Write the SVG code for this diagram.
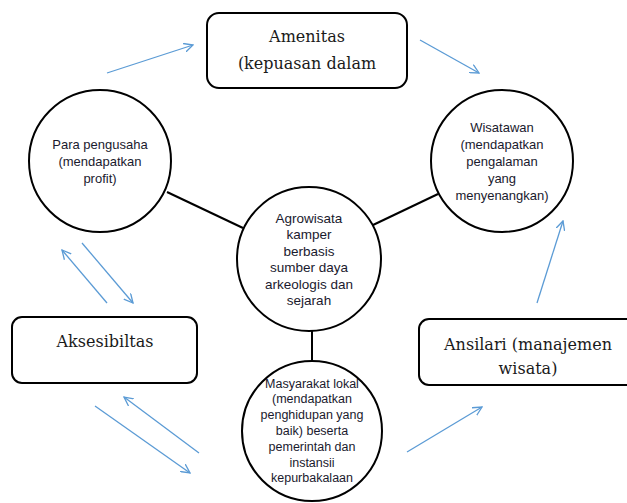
<svg xmlns="http://www.w3.org/2000/svg" width="627" height="503" viewBox="0 0 627 503">
<style>
.box{fill:#fff;stroke:#000;stroke-width:2}
.circ{fill:#fff;stroke:#000;stroke-width:2}
.ser{font-family:"DejaVu Serif","Liberation Serif",serif;font-size:16px;fill:#1a1a1a;text-anchor:middle}
.san{font-family:"Liberation Sans",Arial,sans-serif;font-size:13px;fill:#1a1a2e;text-anchor:middle}
.link{stroke:#000;stroke-width:2;fill:none}
.arr{stroke:#5b9bd5;stroke-width:1.3;fill:none;marker-end:url(#ah)}
</style>
<defs>
<marker id="ah" viewBox="0 0 10 10" refX="9" refY="5" markerWidth="10" markerHeight="10" markerUnits="userSpaceOnUse" orient="auto">
<path d="M0,0.5 L9,5 L0,9.5" fill="none" stroke="#5b9bd5" stroke-width="1.3"/>
</marker>
</defs>
<rect width="627" height="503" fill="#fff"/>
<g id="connectors">
<line class="link" x1="167" y1="192" x2="243" y2="228"/>
<line class="link" x1="373" y1="225" x2="438" y2="194"/>
<line class="link" x1="312" y1="330" x2="312" y2="361"/>
<line class="arr" x1="107" y1="73" x2="193" y2="45"/>
<line class="arr" x1="420" y1="40" x2="479" y2="73"/>
<line class="arr" x1="537" y1="303" x2="563" y2="221"/>
<line class="arr" x1="107" y1="303" x2="62" y2="250"/>
<line class="arr" x1="82" y1="243" x2="133" y2="303"/>
<line class="arr" x1="95" y1="406" x2="190" y2="473"/>
<line class="arr" x1="199" y1="453" x2="124" y2="397"/>
<line class="arr" x1="407" y1="452" x2="482" y2="407"/>
</g>
<g id="amenitas">
<rect class="box" x="207" y="13" width="200" height="75" rx="12"/>
<text class="ser" x="307" y="42">Amenitas</text>
<text class="ser" x="307" y="69">(kepuasan dalam</text>
</g>
<g id="para-pengusaha">
<circle class="circ" cx="100" cy="161" r="71"/>
<text class="san" x="100" y="148.5">Para pengusaha</text>
<text class="san" x="100" y="165.5">(mendapatkan</text>
<text class="san" x="100" y="182.5">profit)</text>
</g>
<g id="wisatawan">
<circle class="circ" cx="502" cy="161" r="71"/>
<text class="san" x="502" y="131.5">Wisatawan</text>
<text class="san" x="502" y="148.5">(mendapatkan</text>
<text class="san" x="502" y="165.5">pengalaman</text>
<text class="san" x="502" y="182.5">yang</text>
<text class="san" x="502" y="199.5">menyenangkan)</text>
</g>
<g id="agrowisata">
<circle class="circ" cx="309" cy="259" r="72"/>
<text class="san" x="309" y="222.5" style="font-size:13.5px">Agrowisata</text>
<text class="san" x="309" y="239" style="font-size:13.5px">kamper</text>
<text class="san" x="309" y="255.5" style="font-size:13.5px">berbasis</text>
<text class="san" x="309" y="272" style="font-size:13.5px">sumber daya</text>
<text class="san" x="309" y="288.5" style="font-size:13.5px">arkeologis dan</text>
<text class="san" x="309" y="305" style="font-size:13.5px">sejarah</text>
</g>
<g id="masyarakat">
<circle class="circ" cx="312" cy="431" r="70"/>
<text class="san" x="312" y="387.5" style="font-size:12.5px">Masyarakat lokal</text>
<text class="san" x="312" y="403.3" style="font-size:12.5px">(mendapatkan</text>
<text class="san" x="312" y="419.1" style="font-size:12.5px">penghidupan yang</text>
<text class="san" x="312" y="434.9" style="font-size:12.5px">baik) beserta</text>
<text class="san" x="312" y="450.7" style="font-size:12.5px">pemerintah dan</text>
<text class="san" x="312" y="466.5" style="font-size:12.5px">instansii</text>
<text class="san" x="312" y="482.3" style="font-size:12.5px">kepurbakalaan</text>
</g>
<g id="aksesibiltas">
<rect class="box" x="12" y="317" width="185" height="66" rx="10"/>
<text class="ser" x="105" y="347">Aksesibiltas</text>
</g>
<g id="ansilari">
<rect class="box" x="419" y="319" width="230" height="66" rx="10"/>
<text class="ser" x="528" y="350">Ansilari (manajemen</text>
<text class="ser" x="528" y="374">wisata)</text>
</g>
</svg>
